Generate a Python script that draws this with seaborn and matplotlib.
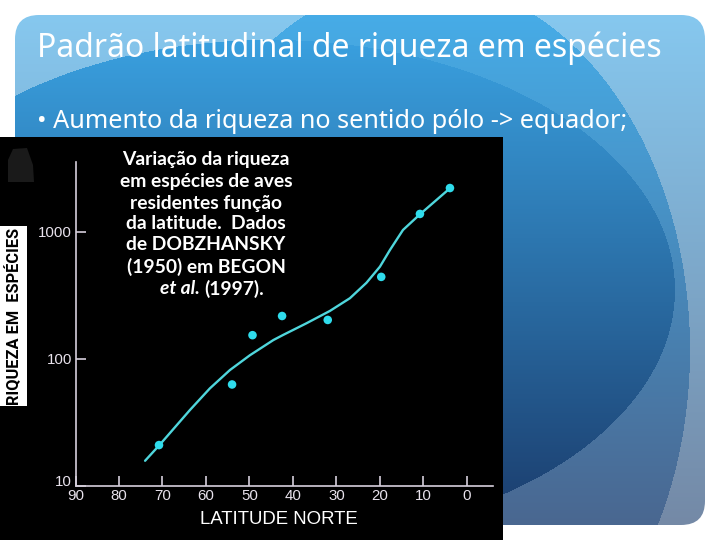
import numpy as np
import pandas as pd
import matplotlib
matplotlib.use("Agg")
import matplotlib.pyplot as plt
from matplotlib.patches import FancyBboxPatch, Rectangle, Polygon
import seaborn as sns

# ---------------- data ----------------
point_lat = [70.8, 54.0, 49.3, 42.5, 32.0, 19.7, 10.8, 3.9]
point_species = [21, 63, 154, 218, 203, 443, 1387, 2218]
curve_lat = [74.0, 70.7, 63.7, 59.1, 54.5, 49.9, 44.5, 42.2, 36.9, 31.5,
             26.9, 23.1, 20.0, 17.7, 14.7, 10.8, 3.9]
curve_species = [15.8, 21.0, 39.6, 58.7, 81.8, 107, 141, 155, 191, 239,
                 301, 398, 533, 721, 1037, 1378, 2208]
x_ticks = [90, 80, 70, 60, 50, 40, 30, 20, 10, 0]
x_tick_labels = [str(v) for v in x_ticks]
y_ticks = [10, 100, 1000]
y_tick_labels = ["10", "100", "1000"]

title = "Padrão latitudinal de riqueza em espécies"
bullet = "• Aumento da riqueza no sentido pólo -> equador;"
note_lines = ["Variação da riqueza", "em espécies de aves", "residentes função",
              "da latitude.  Dados", "de DOBZHANSKY", "(1950) em BEGON"]
note_italic = "et al."
note_tail = "(1997)."
y_label = "RIQUEZA EM  ESPÉCIES"
x_label = "LATITUDE NORTE"

# ---------------- style ----------------
sns.set_theme(style="white")
plt.rcParams["font.family"] = ["DejaVu Sans"]

W, H = 720, 540
fig = plt.figure(figsize=(7.2, 5.4), dpi=100, facecolor="white")


def fx(px):
    return px / W


def fy(py):
    return 1 - py / H


# ---------------- slide background ----------------
bg = fig.add_axes([0, 0, 1, 1])
bg.set_xlim(0, W)
bg.set_ylim(H, 0)
bg.axis("off")

x0, x1, y0, y1 = 15, 705, 15, 525
xx, yy = np.meshgrid(np.arange(x0, x1) + 0.5, np.arange(y0, y1) + 0.5)
t = ((yy - y0) / (y1 - y0))[..., None]


def hexrgb(h):
    h = h.lstrip("#")
    return np.array([int(h[i:i + 2], 16) / 255 for i in (0, 2, 4)])


def lerp(a, b, tt):
    return hexrgb(a) * (1 - tt) + hexrgb(b) * tt


c1 = lerp("#3ba5e5", "#1b3c6c", t)
c2 = lerp("#46ace7", "#4a6790", t)
c3 = lerp("#86c8ef", "#7489a6", t)
in1 = (((xx - 270) / 405) ** 2 + ((yy - 290) / 250) ** 2) <= 1
in3 = (((xx - 420) / 270) ** 2 + ((yy - 350) / 370) ** 2) > 1
img = np.where(in1[..., None], c1, np.where(in3[..., None], c3, c2))
im = bg.imshow(img, extent=(x0, x1, y1, y0), interpolation="bilinear", zorder=0)
panel = FancyBboxPatch((x0 + 24, y0 + 24), (x1 - x0) - 48, (y1 - y0) - 48,
                       boxstyle="round,pad=24", transform=bg.transData,
                       facecolor="none", edgecolor="none")
bg.add_patch(panel)
im.set_clip_path(panel)

# black picture area
bg.add_patch(Rectangle((0, 137), 503, 403, facecolor="black", edgecolor="none", zorder=2))
bg.add_patch(Polygon([(8, 160), (13, 149), (27, 148), (33, 165), (34, 182), (8, 182)],
                     closed=True, facecolor="#1a1a1a", edgecolor="none", zorder=3))
# white strip behind y label
bg.add_patch(Rectangle((0, 226), 27, 180, facecolor="white", edgecolor="none", zorder=3))

fig.canvas.draw()
renderer = fig.canvas.get_renderer()


def fit_width(txt, target):
    w = txt.get_window_extent(renderer).width
    txt.set_fontsize(txt.get_fontsize() * target / w)


def fit_height(txt, target):
    h = txt.get_window_extent(renderer).height
    txt.set_fontsize(txt.get_fontsize() * target / h)


# ---------------- slide texts ----------------
t_title = fig.text(fx(37), fy(48), title, color="white", fontsize=21,
                   ha="left", va="center", family="Noto Sans")
fit_width(t_title, 626)
t_bullet = fig.text(fx(37), fy(122), bullet, color="white", fontsize=16,
                    ha="left", va="center", family="Noto Sans")
fit_width(t_bullet, 590)

# ---------------- chart ----------------
axc = "#d6cfdc"
ax = fig.add_axes([fx(75.5), 1 - 486 / H, (493 - 75.5) / W, (486 - 162) / H])
ax.patch.set_alpha(0)

sns.lineplot(x=curve_lat, y=curve_species, ax=ax, color="#4fd6dc",
             linewidth=1.7, sort=False, zorder=3)
ax.lines[-1].set_solid_joinstyle("round")
sns.scatterplot(x=point_lat, y=point_species, ax=ax, color="#2fdcec",
                s=38, edgecolor="none", linewidth=0, zorder=4)

ax.set_yscale("log")
ax.set_xlim(90, -6)
ax.set_ylim(10, 3556)
ax.set_xticks(x_ticks)
ax.set_xticklabels(x_tick_labels)
ax.set_yticks(y_ticks)
ax.set_yticklabels(y_tick_labels)
ax.minorticks_off()
for side in ("top", "right"):
    ax.spines[side].set_visible(False)
for side in ("left", "bottom"):
    ax.spines[side].set_color(axc)
    ax.spines[side].set_linewidth(1.2)
ax.tick_params(axis="both", direction="in", length=7.5, width=1.2, color=axc,
               labelcolor="#e8e2ec", labelsize=10.8, pad=2.5,
               left=True, bottom=True)
for lab in ax.get_xticklabels() + ax.get_yticklabels():
    lab.set_family("Liberation Sans")
ax.get_yticklabels()[0].set_verticalalignment("baseline")
ax.set_xlabel("")
ax.set_ylabel("")
ax.grid(False)

# axis titles
t_xl = fig.text(fx(278.5), fy(520), x_label, color="white", fontsize=14,
                ha="center", va="center", family="Liberation Sans")
fit_width(t_xl, 159)
t_yl = bg.text(13.5, 316, y_label, color="black", fontsize=12, rotation=90,
               ha="center", va="center", fontweight="bold", family="Roboto", zorder=4)
fit_height(t_yl, 177)

# annotation block
centre_x = 206
line_y = [159, 181, 203, 224, 245, 267, 289]
first = fig.text(fx(centre_x), fy(line_y[0]), note_lines[0], color="white",
                 fontsize=12, ha="center", va="center", fontweight="bold", family="Lato")
fit_width(first, 167)
fs = first.get_fontsize()
for yv, s in zip(line_y[1:], note_lines[1:]):
    fig.text(fx(centre_x), fy(yv), s, color="white", fontsize=fs,
             ha="center", va="center", fontweight="bold", family="Lato")
fig.text(fx(200), fy(line_y[-1]), note_italic, color="white", fontsize=fs,
         ha="right", va="center", fontweight="bold", style="italic", family="Lato")
fig.text(fx(204), fy(line_y[-1]), note_tail, color="white", fontsize=fs,
         ha="left", va="center", fontweight="bold", family="Lato")

fig.savefig("out.png", dpi=100, facecolor="white")
